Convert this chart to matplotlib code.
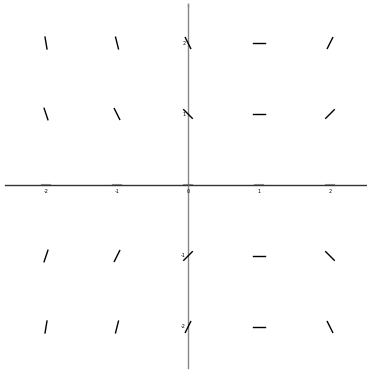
import numpy as np
import matplotlib.pyplot as plt

# grid points of the slope field and the slope read at each one
xs = [-2, -1, 0, 1, 2]
ys = [2, 1, -1, -2]
slopes = [
    [-6, -4, -2, 0, 2],     # y = 2
    [-3, -2, -1, 0, 1],     # y = 1
    [3, 2, 1, 0, -1],       # y = -1
    [6, 4, 2, 0, -2],       # y = -2
]
xticks = [-2, -1, 0, 1, 2]
yticks = [-2, -1, 1, 2]

fig = plt.figure(figsize=(3.67, 3.70), dpi=100)
ax = fig.add_axes([0, 0, 1, 1])
ax.set_xlim(-2.648, 2.521)
ax.set_ylim(-2.606, 2.606)

# axes lines
ax.plot([-2.58, 2.51], [0, 0], color='#333333', lw=1.0, zorder=1)
ax.plot([0, 0], [-2.58, 2.54], color='#888888', lw=1.0, zorder=1)
ax.plot([0], [2.54], marker=(2, 0, 0), color='#888888', ms=3)

# tick labels
for t in xticks:
    ax.plot([t - 0.05, t + 0.05], [0, 0], color='#333333', lw=1.5, alpha=0.5)
    ax.text(t, -0.05, str(t), fontsize=3.5, ha='center', va='top')
for t in yticks:
    ax.text(-0.03, t, str(t), fontsize=3.5, ha='right', va='center')

# slope segments, normalised to a fixed length
half = 0.085
for j, y in enumerate(ys):
    for i, x in enumerate(xs):
        m = slopes[j][i]
        dx = half / np.sqrt(1 + m * m)
        dy = m * dx
        ax.plot([x - dx, x + dx], [y - dy, y + dy], color='black', lw=1.0, zorder=3)

ax.axis('off')
plt.savefig('out.png', dpi=100)
